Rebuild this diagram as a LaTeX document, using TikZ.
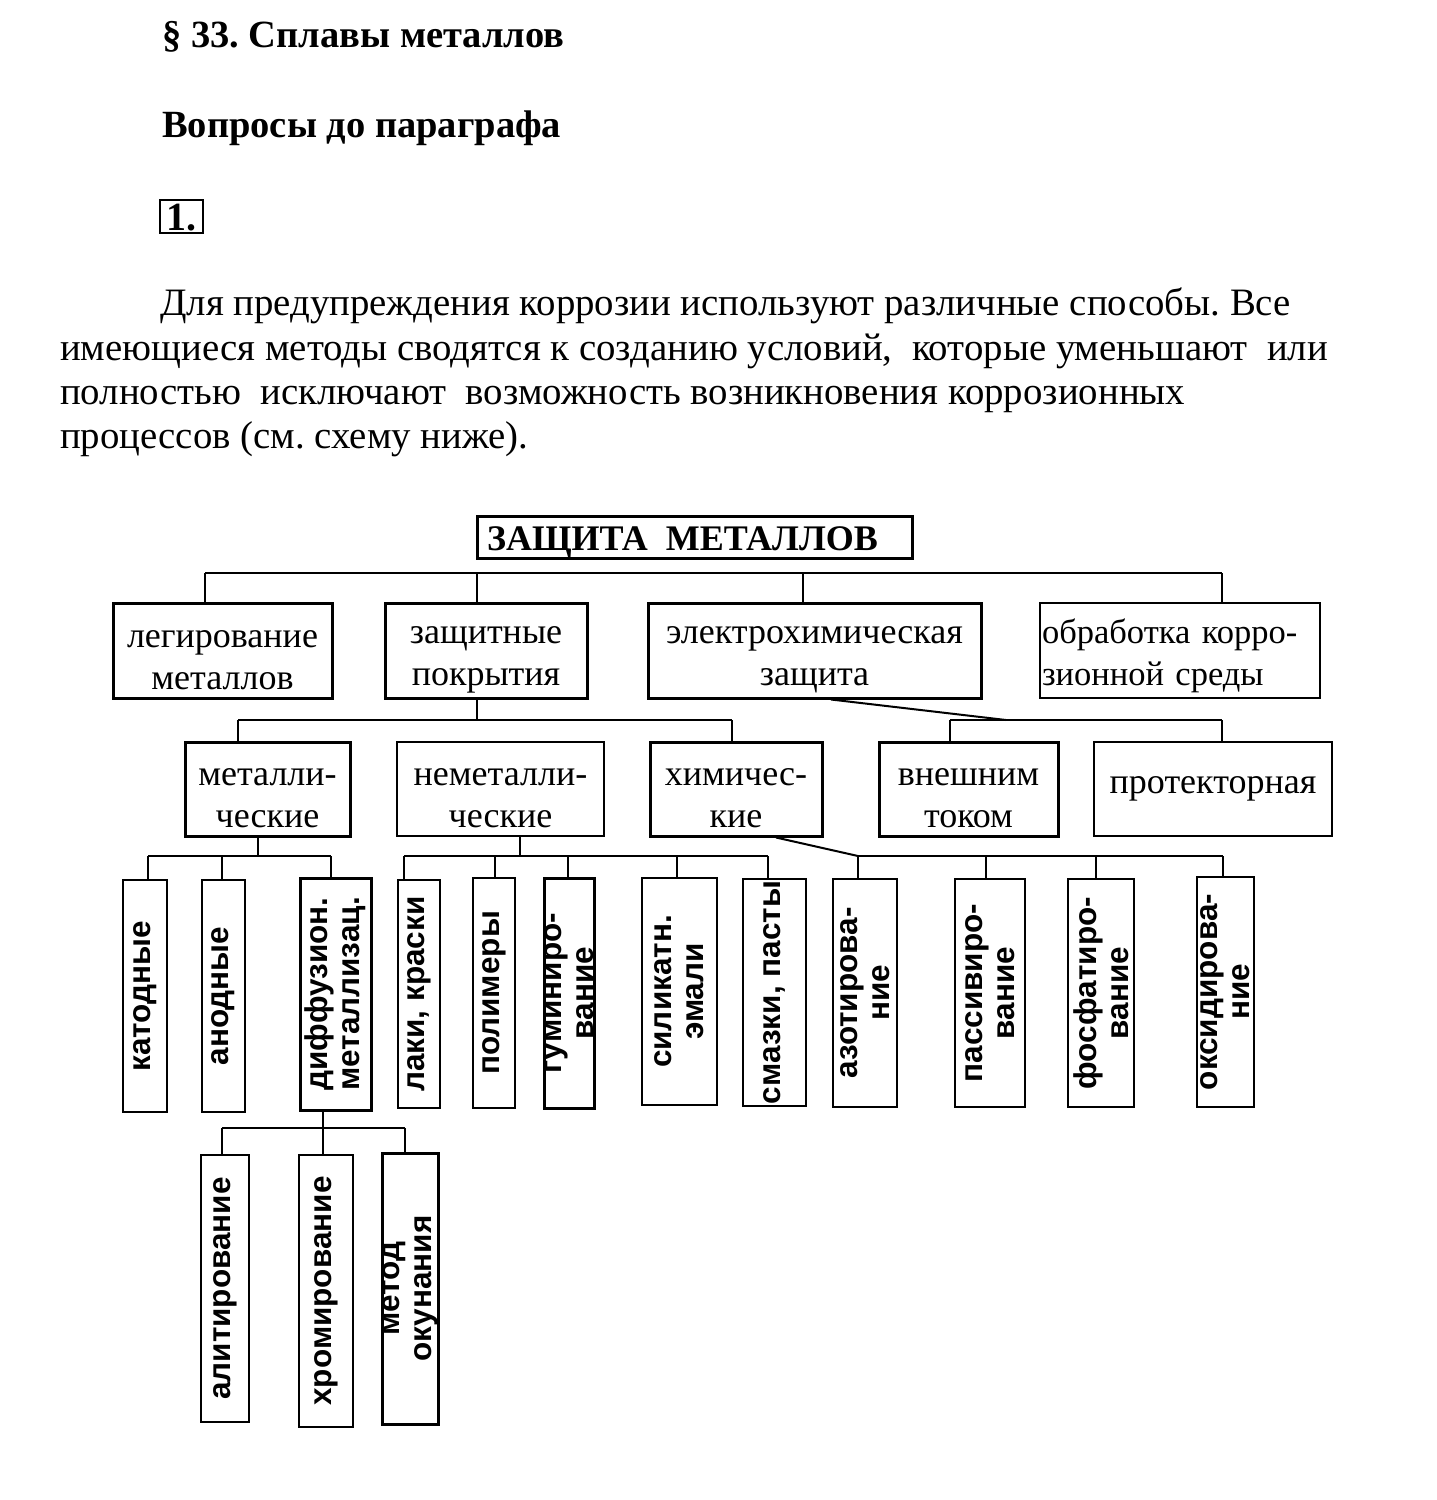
\documentclass[tikz,border=0pt]{standalone}
\usepackage{fontspec}
\setmainfont{Liberation Serif}
\newfontfamily\arialf{Liberation Sans}
\usetikzlibrary{calc}
\frenchspacing
\newcommand{\upst}{\rule{0pt}{36pt}}
\tikzset{
  thk/.style={draw, line width=3pt, inner sep=0pt, align=center, font=\fontsize{36}{42}\selectfont},
  nrm/.style={draw, line width=2pt, inner sep=0pt, align=center, font=\fontsize{36}{42}\selectfont},
  vb/.style={draw, line width=2pt, inner sep=0pt},
  vbt/.style={draw, line width=3pt, inner sep=0pt},
  vt/.style={rotate=90, align=center, inner sep=0pt, font=\arialf\bfseries\fontsize{31.5}{32}\selectfont},
  conn/.style={line width=2pt},
  para/.style={anchor=base west, inner sep=0pt, font=\fontsize{38.8}{45}\selectfont},
  head/.style={anchor=base west, inner sep=0pt, font=\bfseries\fontsize{38.5}{45}\selectfont},
}
\begin{document}
\begin{tikzpicture}[x=1pt,y=-1pt]
\useasboundingbox (0,0) rectangle (1437,1500);
% headings
\node[head] (h1) at (162,47) {§ 33. Сплавы металлов};
\node[head] (h2) at (162,137) {Вопросы до параграфа};
\node[draw, line width=2.5pt, minimum width=43pt, minimum height=33pt, inner sep=0pt] (num) at (181.5,216.5) {};
\node[anchor=base, inner sep=0pt, font=\bfseries\fontsize{40}{40}\selectfont] (numt) at (181.5,230) {1.};
% paragraph
\node[para] (p1) at (160,315) {Для предупреждения коррозии используют различные способы. Все};
\node[para] (p2) at (60,360) {имеющиеся методы сводятся к созданию условий,\ \ которые уменьшают\ \ или};
\node[para] (p3) at (60,404) {полностью\ \ исключают\ \ возможность возникновения коррозионных};
\node[para] (p4) at (60,448) {процессов (см. схему ниже).};
% top box
\node[thk, minimum width=435pt, minimum height=42pt] (top) at (694.5,537) {};
\node[anchor=base west, inner sep=0pt, font=\bfseries\fontsize{36}{40}\selectfont] (topt) at (487,550) {ЗАЩИТА\ \ МЕТАЛЛОВ};
% level 1
\node[thk, minimum width=219pt, minimum height=95pt] (legir) at (222.5,650.5) {\upst легирование\\металлов};
\node[thk, minimum width=202pt, minimum height=95pt] (zash) at (486,650.5) {\upst защитные\\покрытия};
\node[thk, minimum width=333pt, minimum height=95pt] (elch) at (814.5,650.5) {\upst электрохимическая\\защита};
\node[nrm, minimum width=280pt, minimum height=95pt, align=left, text width=276pt, font=\fontsize{34.5}{42}\selectfont] (obrab) at (1180,650.5) {\upst обработка корро-\\зионной среды};
% level 2
\node[thk, minimum width=165pt, minimum height=94pt] (metall) at (267.5,789) {\upst металли-\\ческие};
\node[nrm, minimum width=207pt, minimum height=94pt] (nemet) at (500.5,789) {\upst неметалли-\\ческие};
\node[thk, minimum width=172pt, minimum height=94pt] (khim) at (736,789) {\upst химичес-\\кие};
\node[thk, minimum width=179pt, minimum height=94pt] (vnesh) at (968.5,789) {\upst внешним\\током};
\node[nrm, minimum width=238pt, minimum height=94pt] (prot) at (1213,789) {протекторная};
% level 3
\node[vb, minimum width=44pt, minimum height=232pt] (kat) at (145,996) {};
\node[vt] at (kat) {катодные};
\node[vb, minimum width=43pt, minimum height=232pt] (anod) at (223.5,996) {};
\node[vt] at (anod) {анодные};
\node[vbt, minimum width=71pt, minimum height=232pt] (diff) at (335.5,994) {};
\node[vt] at (diff) {диффузион.\\металлизац.};
\node[vb, minimum width=42pt, minimum height=228pt] (laki) at (419,994) {};
\node[vt] at (laki) {лаки, краски};
\node[vb, minimum width=42pt, minimum height=230pt] (polim) at (494,993) {};
\node[vt] at (polim) {полимеры};
\node[vbt, minimum width=50pt, minimum height=230pt] (gumin) at (569,993) {};
\node[vt] at (gumin) {гуминиро-\\вание};
\node[vb, minimum width=75pt, minimum height=227pt] (silik) at (679.5,991.5) {};
\node[vt] at (silik) {силикатн.\\эмали};
\node[vb, minimum width=63pt, minimum height=227pt] (smaz) at (774.5,992.5) {};
\node[vt] at (smaz) {смазки, пасты};
\node[vb, minimum width=64pt, minimum height=228pt] (azot) at (865,993) {};
\node[vt] at (azot) {азотирова-\\ние};
\node[vb, minimum width=70pt, minimum height=228pt] (pass) at (990,993) {};
\node[vt] at (pass) {пассивиро-\\вание};
\node[vb, minimum width=66pt, minimum height=228pt] (fosf) at (1101,993) {};
\node[vt] at (fosf) {фосфатиро-\\вание};
\node[vb, minimum width=57pt, minimum height=230pt] (oksid) at (1225.5,992) {};
\node[vt] at (oksid) {оксидирова-\\ние};
% level 4
\node[vb, minimum width=48pt, minimum height=267pt] (alit) at (225,1288.5) {};
\node[vt] at (alit) {алитирование};
\node[vb, minimum width=54pt, minimum height=272pt] (khrom) at (326,1291) {};
\node[vt] at (khrom) {хромирование};
\node[vbt, minimum width=56pt, minimum height=271pt] (metod) at (410,1288.5) {};
\node[vt] at (metod) {метод\\окунания};
% ---- connectors
% bus 1
\coordinate (j1a) at (205,573);
\coordinate (j1b) at (477,573);
\coordinate (j1c) at (803,573);
\coordinate (j1d) at (1222,573);
\draw[conn] (j1a) -- (j1d);
\draw[conn] (j1a) -- (j1a |- legir.north);
\draw[conn] (j1b) -- (j1b |- zash.north);
\draw[conn] (j1c) -- (j1c |- elch.north);
\draw[conn] (j1d) -- (j1d |- obrab.north);
% bus 2a
\coordinate (j2s) at (477,720);
\coordinate (j2a) at (238,720);
\coordinate (j2b) at (732,720);
\draw[conn] (j2s |- zash.south) -- (j2s);
\draw[conn] (j2a) -- (j2b);
\draw[conn] (j2a) -- (j2a |- metall.north);
\draw[conn] (j2b) -- (j2b |- khim.north);
% bus 2b
\coordinate (j2e) at (1006,720);
\coordinate (j2c) at (950,720);
\coordinate (j2d) at (1222,720);
\draw[conn] ([xshift=16.5pt]elch.south) -- (j2e);
\draw[conn] (j2c) -- (j2d);
\draw[conn] (j2c) -- (j2c |- vnesh.north);
\draw[conn] (j2d) -- (j2d |- prot.north);
% bus 3a
\coordinate (j3s) at (258,856);
\coordinate (j3a) at (148,856);
\coordinate (j3b) at (222,856);
\coordinate (j3c) at (331,856);
\draw[conn] (j3s |- metall.south) -- (j3s);
\draw[conn] (j3a) -- (j3c);
\draw[conn] (j3a) -- (j3a |- kat.north);
\draw[conn] (j3b) -- (j3b |- anod.north);
\draw[conn] (j3c) -- (j3c |- diff.north);
% bus 3b
\coordinate (j3t) at (520,856);
\coordinate (j3d) at (404,856);
\coordinate (j3e) at (495,856);
\coordinate (j3f) at (568,856);
\coordinate (j3g) at (677,856);
\coordinate (j3h) at (768,856);
\draw[conn] (j3t |- nemet.south) -- (j3t);
\draw[conn] (j3d) -- (j3h);
\draw[conn] (j3d) -- (j3d |- laki.north);
\draw[conn] (j3e) -- (j3e |- polim.north);
\draw[conn] (j3f) -- (j3f |- gumin.north);
\draw[conn] (j3g) -- (j3g |- silik.north);
\draw[conn] (j3h) -- (j3h |- smaz.north);
% bus 3c
\coordinate (j3i) at (858,856);
\coordinate (j3j) at (986,856);
\coordinate (j3k) at (1096,856);
\coordinate (j3l) at (1223,856);
\draw[conn] ([xshift=40pt]khim.south) -- (j3i);
\draw[conn] (j3i) -- (j3l);
\draw[conn] (j3i) -- (j3i |- azot.north);
\draw[conn] (j3j) -- (j3j |- pass.north);
\draw[conn] (j3k) -- (j3k |- fosf.north);
\draw[conn] (j3l) -- (j3l |- oksid.north);
% bus 4
\coordinate (j4s) at (323,1128);
\coordinate (j4a) at (222,1128);
\coordinate (j4c) at (405,1128);
\draw[conn] (j4s |- diff.south) -- (j4s);
\draw[conn] (j4a) -- (j4c);
\draw[conn] (j4a) -- (j4a |- alit.north);
\draw[conn] (j4s) -- (j4s |- khrom.north);
\draw[conn] (j4c) -- (j4c |- metod.north);
\end{tikzpicture}
\end{document}
